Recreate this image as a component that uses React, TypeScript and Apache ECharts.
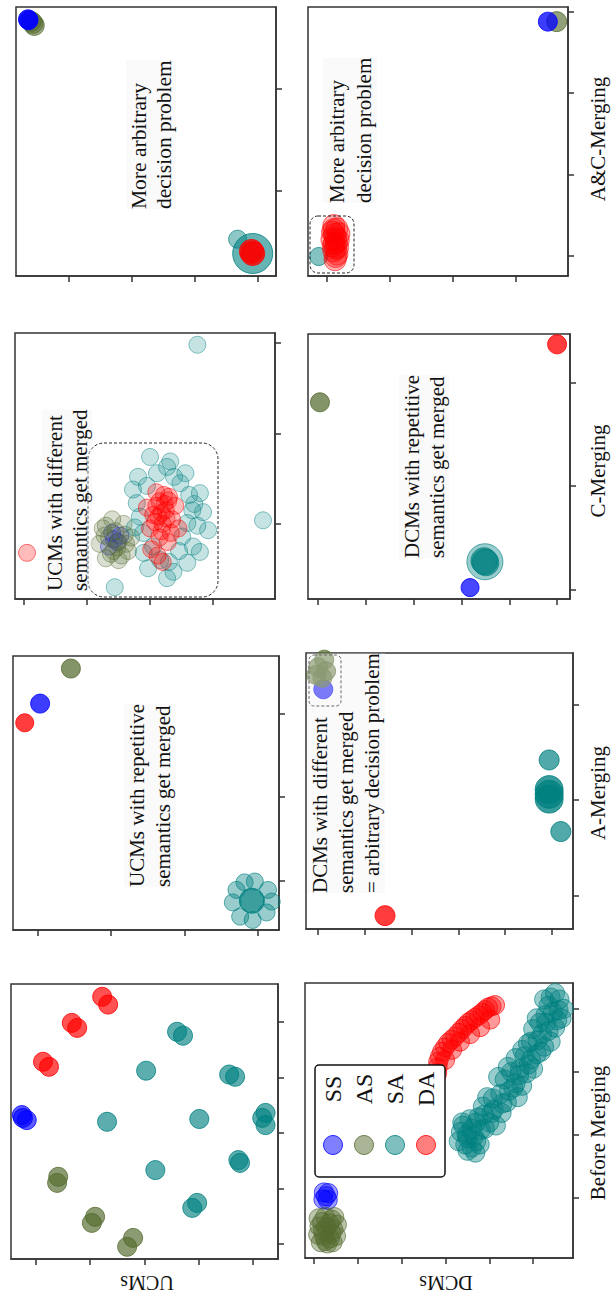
import React, { useEffect, useRef } from "react";
import * as echarts from "echarts";

// ---------- categories / labels ----------
const classNames = ["SS", "AS", "SA", "DA"];
const stageTitles = ["A&C-Merging", "C-Merging", "A-Merging", "Before Merging"];
const modelLabels = ["UCMs", "DCMs"];

// ---------- data (picture-oriented: [horizontal, vertical]) ----------
// A&C-Merging, UCMs
const acUcmSS = [[-6.5, 16.8], [-6.4, 16.7]];
const acUcmAS = [[-5.7, 16.4], [-6.0, 16.6], [-5.5, 16.2]];
const acUcmSA = [[26.8, -4.7], [29.0, -6.0]];
const acUcmSABlob = [[29.2, -6.1]];
const acUcmDA = [[29.2, -6.1], [29.0, -5.9]];
// A&C-Merging, DCMs
const acDcmSS = [[35.1, 28.8]];
const acDcmAS = [[36.5, 28.8]];
const acDcmSA = [[-1.3, -0.1]];
const acDcmDA = [[1.1, 3.2], [1.4, 2.2], [1.0, 1.2], [1.6, 0.2], [1.3, -0.5], [1.9, 2.7], [0.8, 2.0], [1.7, 1.0], [1.1, 3.7], [1.4, -0.1],
  [1.2, 2.6], [1.5, 1.6], [1.1, 0.6], [1.6, 3.3], [0.9, 2.9], [1.8, 1.9], [1.2, 1.5], [1.4, 0.9]];
// C-Merging, UCMs
const cUcmSS = [[14, -1], [14.8, -2], [13.5, -2.5], [15.3, -1.3], [14.3, -1.7]];
const cUcmAS = [[12.5, -0.5], [14, 0.5], [15.8, 0], [17, -1.5], [16.5, -3], [15, -4], [13, -3.8], [12, -2.2], [13.5, -1.5], [15, -2], [14.5, -0.8], [16, -1.2], [13, -0.2], [14.2, -3], [15.5, -3.5],
  [14.8, -2.6], [13.8, -3.3], [16.2, -2.2], [12.8, -1.3]];
const cUcmSA = [[27.5, 19.8], [37.9, 0.4], [14.4, -7.0],
  [20, 7.4], [23.2, 6.9], [25.6, 5.6], [18.1, 5.2], [17.3, 3.8], [27.9, 3.4], [28.4, 1.3], [29.2, -0.7], [27.9, -3.1], [25.9, -4.3], [23.7, -5.3], [22.7, -6.0], [19.7, -4.9], [18.4, 0.8], [17.9, 2.3], [26.8, -2.5], [24.8, 4.5], [21.1, 5.6], [26.7, 1.5], [25.1, -1.4], [18.9, -1.0], [21.6, -4.0], [22.7, 6.3], [25.9, 0.1],
  [19.5, 4.2], [23.8, 5.2], [26.2, 3.2], [27.5, -0.2], [24.6, -3.0], [20.5, -2.5], [19.0, -3.2], [23.0, -4.2], [17.6, -0.4], [27.0, 2.2]];
const cUcmDA = [[0.5, -3.2],
  [21.5, 2.5], [22.5, 1.5], [20.5, 1], [23, 3], [21, 3.5], [22, 0], [20, -0.5], [23.5, 0.5], [24, 2], [21.5, -1.5], [22.8, -2], [20.2, -2.8], [21.2, -3.5], [22, -4.2], [19.5, 1.8], [24.5, -0.5], [20.8, 0.2], [22.3, 2.2], [21.8, -0.8], [23.3, -1],
  [21.8, 1.2], [22.6, 0.6], [21.0, 2.0], [22.9, 2.6], [21.3, 0.8], [22.2, 3.2]];
// C-Merging, DCMs
const cDcmSS = [[31.8, 0.2]];
const cDcmAS = [[0.4, 18.1]];
const cDcmSA = [[34.9, 2.7], [34.7, 2.8], [35.1, 2.6]];
const cDcmSAHalo = [[34.9, 2.7]];
const cDcmDA = [[50, 23.7]];
// A-Merging, UCMs
const aUcmSS = [[0.3, 21.2]];
const aUcmAS = [[4.5, 25.4]];
const aUcmSA = [[29.6, -0.1], [31.4, -1.1], [31.9, -2.5], [31.2, -3.8], [29.3, -4.7], [27.6, -4.3], [26.6, -2.6], [27.1, -1.1], [28.2, -0.2]];
const aUcmSACore = [[29.2, -2.4]];
const aUcmDA = [[-1.8, 18.9]];
// A-Merging, DCMs
const aDcmSS = [[1.1, 21.6]];
const aDcmAS = [[0, 23.9], [1.3, 24.7], [0.9, 22.8], [-0.4, 23.1], [1.7, 23.5]];
const aDcmSA = [[49.4, 14.2], [51.9, 6.7]];
const aDcmSAMerged = [[49.4, 11.1], [49.4, 10.6], [49.4, 10.1]];
const aDcmDA = [[14.3, -2.1]];
// Before Merging, UCMs
const bUcmSS = [[-2.4, 22.7], [-1.7, 22.3], [-2.6, 23.2]];
const bUcmAS = [[4.1, 12.1], [3.9, 11.0], [10.9, 4.9], [10.3, 3.8], [17.9, 1.1], [16.8, -0.5]];
const bUcmSA = [[26.0, 38.2], [27.1, 37.5], [20.3, 31.2], [35.6, 30.5], [36.7, 30.1], [13.1, 22.0], [30.1, 22.5], [41.7, 22.7], [42.3, 23.6], [42.3, 21.4], [22.0, 13.3], [37.3, 15.1], [37.6, 14.6], [29.7, 7.4], [28.8, 6.5]];
const bUcmDA = [[12.2, 44.5], [13.3, 43.1], [6.6, 39.8], [7.6, 38.9], [1.3, 32.8], [2.4, 31.9]];
// Before Merging, DCMs
const bDcmSS = [[2.2, 0.9], [3.2, 0.8], [2.7, 0.3], [2.1, -0.2], [3.1, -0.3]];
const bDcmAS = [[1.0, -3.2], [2.5, -3.0], [4.0, -3.4], [5.2, -4.2], [1.2, -4.5], [2.8, -4.6], [4.4, -5.0], [0.9, -5.8], [2.2, -6.0], [3.6, -6.4], [5.0, -6.0], [1.5, -7.0], [3.0, -7.2], [4.2, -7.0], [2.0, -5.2], [3.5, -4.0], [1.8, -3.8], [4.6, -3.0], [2.6, -6.8], [3.9, -5.6]];
const bDcmSA = [[33.5, 10.5], [34.5, 8.5], [36, 11], [37, 9], [35, 7.5], [33.8, 12], [36.8, 7.2], [38, 10.8],
  [38.5, 14.5], [40, 12], [41, 14], [39.5, 16], [37.5, 12.8], [41.5, 11.5],
  [42.5, 16.5], [44, 15.2], [45.5, 17.5], [43.5, 18.8], [46.5, 16], [42, 19.2], [45, 20],
  [47, 20.5], [48.5, 19.8], [49.5, 22], [47.5, 23.5], [46, 22.2], [50, 20.5], [48.8, 24.5],
  [51, 25], [52.5, 24], [53.5, 26.5], [51.5, 27.8], [50, 26.8], [54, 24.8], [52.8, 29],
  [54.5, 29.5], [56, 31.5], [55.5, 28.2], [54, 31.8], [57, 30],
  [34.8, 10.0], [36.5, 9.8], [35.5, 12.5], [33, 9], [37.8, 8.5], [39, 11], [40.5, 13.5], [38.8, 13.2], [42.8, 13.5], [40.8, 15.8],
  [43, 15], [44.5, 17], [46, 18.2], [44.2, 20.8], [47.5, 17.8], [46.8, 19.5], [49, 21.2], [48, 22.5], [50.8, 22.8], [49.5, 24.8],
  [51.8, 23.2], [52, 26], [53, 27.8], [50.8, 28.5], [55, 27], [53.5, 30.5], [55.8, 29.8], [56.5, 28.5], [52.5, 31.5], [55, 32.5],
  [34, 11.5], [36, 8], [37, 12], [35, 9.5]];
const bDcmDA = [[28.1, 19.8], [28.3, 21.6], [29.2, 23.2], [30.6, 24.6], [32.2, 25.6], [33.8, 26.8], [35.2, 27.8], [36.8, 28.6], [38.4, 29.4], [39.7, 30.2], [41.3, 30.6],
  [29.9, 21.9], [31.5, 23.5], [33.3, 24.8], [35.6, 26.0], [37.9, 27.1], [40.2, 28.3],
  [28.2, 20.7], [28.7, 22.4], [29.9, 23.9], [31.4, 25.1], [33.0, 26.2], [34.5, 27.3], [36.0, 28.2], [37.6, 29.0], [39.0, 29.8], [40.5, 30.4]];

// tick values
const ticks4 = [0, 10, 20, 30];
const ticks6 = [0, 10, 20, 30, 40, 50];
const ticks5 = [0, 10, 20, 30, 40];

const panelData = [
  [acUcmSS, acUcmAS, acUcmSA, acUcmDA],
  [acDcmSS, acDcmAS, acDcmSA, acDcmDA],
  [cUcmSS, cUcmAS, cUcmSA, cUcmDA],
  [cDcmSS, cDcmAS, cDcmSA, cDcmDA],
  [aUcmSS, aUcmAS, aUcmSA, aUcmDA],
  [aDcmSS, aDcmAS, aDcmSA, aDcmDA],
  [bUcmSS, bUcmAS, bUcmSA, bUcmDA],
  [bDcmSS, bDcmAS, bDcmSA, bDcmDA],
];

// merged (larger) teal blobs drawn just before the regular teal series of a panel
const extraTeal: { panel: number; data: number[][]; size: number; alpha: number }[] = [
  { panel: 0, data: acUcmSABlob, size: 40, alpha: 0.75 },
  { panel: 3, data: cDcmSAHalo, size: 36, alpha: 0.5 },
  { panel: 4, data: aUcmSACore, size: 25, alpha: 0.95 },
  { panel: 5, data: aDcmSAMerged, size: 28, alpha: 0.97 },
];

// ---------- layout / style ----------
const panels = [
  { grid: [16, 7, 260, 269], x: [-8.4, 32.9], y: [-8.3, 18.0], xt: ticks4, yt: [0, 10], alpha: [0.95, 0.7, 0.55, 0.95], sizes: [19, 20, 18, 24], order: [1, 0, 2, 3] },
  { grid: [308, 7, 260, 269], x: [-3.0, 38.3], y: [-2.5, 30.6], xt: ticks4, yt: ticks4, alpha: [0.95, 0.8, 0.6, 0.4], sizes: [19, 20, 18, 22], order: [1, 0, 2, 3] },
  { grid: [15, 333, 260, 266], x: [-1.4, 39.8], y: [-8.3, 21.1], xt: ticks4, yt: [0, 10, 20], alpha: [0.3, 0.28, 0.28, 0.34], sizes: [17, 17, 17, 17] },
  { grid: [308, 334, 262, 265], x: [-2.1, 52.7], y: [-0.9, 24.7], xt: ticks6, yt: [0, 10, 20], alpha: [0.9, 0.9, 0.6, 0.95], sizes: [18, 19, 26, 19] },
  { grid: [13, 656, 266, 274], x: [-3.4, 32.9], y: [-5.9, 26.9], xt: ticks4, yt: [0, 10, 20], alpha: [0.95, 0.9, 0.5, 0.95], sizes: [19, 19, 17, 18] },
  { grid: [306, 653, 267, 276], x: [-2.6, 54.5], y: [-3.5, 25.4], xt: ticks6, yt: [0, 10, 20], alpha: [0.95, 0.85, 0.85, 0.95], sizes: [19, 19, 20, 20] },
  { grid: [11, 984, 267, 275], x: [-4.6, 44.6], y: [-2.7, 46.8], xt: ticks5, yt: ticks5, alpha: [0.8, 0.85, 0.8, 0.85], sizes: [19, 19, 19, 19] },
  { grid: [305, 983, 268, 275], x: [-2.1, 59.1], y: [-9.5, 34.1], xt: ticks6, yt: ticks4, alpha: [0.5, 0.5, 0.5, 0.5], sizes: [19, 19, 19, 19] },
];

const classColors = [[0, 0, 255], [85, 107, 47], [0, 128, 128], [255, 0, 0]];
const rgba = (c: number[], a: number) => `rgba(${c[0]},${c[1]},${c[2]},${a})`;
const SERIF = '"Liberation Serif", "Times New Roman", serif';

const annotations = [
  { text: "More arbitrary\ndecision problem", x: 126, y: 209, size: 21.5, lh: 25 },
  { text: "More arbitrary\ndecision problem", x: 323, y: 203, size: 21, lh: 27 },
  { text: "UCMs with different\nsemantics get merged", x: 42, y: 591, size: 21, lh: 25 },
  { text: "DCMs with repetitive\nsemantics get merged", x: 399, y: 558, size: 21, lh: 25 },
  { text: "UCMs with repetitive\nsemantics get merged", x: 124, y: 887, size: 21, lh: 26 },
  { text: "DCMs with different\nsemantics get merged\n= arbitrary decision problem", x: 307, y: 893, size: 21, lh: 26 },
];

const dashedBoxes = [
  [310, 216, 44, 57, 8],
  [88, 443, 130, 154, 16],
  [309, 655, 32, 51, 5],
];

const stageTitleY = [139, 471, 793, 1133];

export default function App() {
  const ref = useRef<HTMLDivElement>(null);
  useEffect(() => {
    if (!ref.current) return;
    const chart = echarts.init(ref.current, null, { renderer: "svg" });
    const grid: any[] = [];
    const xAxis: any[] = [];
    const yAxis: any[] = [];
    const series: any[] = [];
    const lineCol = "#333";
    const mkScatter = (i: number, k: number, data: number[][], size: number, a: number, z: number) => ({
      type: "scatter", name: classNames[k], xAxisIndex: i, yAxisIndex: i,
      data, symbol: "circle", symbolSize: size,
      itemStyle: { color: rgba(classColors[k], a), borderColor: rgba(classColors[k], Math.min(1, a + 0.3)), borderWidth: 1 },
      silent: true, z,
    });
    panels.forEach((p, i) => {
      grid.push({ left: p.grid[0], top: p.grid[1], width: p.grid[2], height: p.grid[3], show: true, borderColor: lineCol, borderWidth: 1.5, containLabel: false });
      xAxis.push({
        gridIndex: i, type: "value", min: p.x[0], max: p.x[1], position: "bottom",
        axisLine: { show: true, onZero: false, lineStyle: { color: lineCol, width: 1.5 } },
        axisTick: { show: true, inside: false, length: 6, customValues: p.xt, lineStyle: { color: lineCol, width: 1.5 } },
        axisLabel: { show: false }, splitLine: { show: false },
      });
      yAxis.push({
        gridIndex: i, type: "value", min: p.y[0], max: p.y[1], position: "right",
        axisLine: { show: true, onZero: false, lineStyle: { color: lineCol, width: 1.5 } },
        axisTick: { show: true, inside: false, length: 6, customValues: p.yt, lineStyle: { color: lineCol, width: 1.5 } },
        axisLabel: { show: false }, splitLine: { show: false },
      });
      const order = (p as any).order || [0, 1, 2, 3];
      let z = 2;
      order.forEach((k: number) => {
        if (k === 2) {
          extraTeal.filter((e) => e.panel === i).forEach((e) => {
            series.push(mkScatter(i, 2, e.data, e.size, e.alpha, z++));
          });
        }
        series.push(mkScatter(i, k, panelData[i][k], p.sizes[k], p.alpha[k], z++));
      });
    });

    const graphic: any[] = [];
    annotations.forEach((a) => {
      graphic.push({
        type: "text", x: a.x, y: a.y, rotation: Math.PI / 2, z: 50,
        style: { text: a.text, font: `${a.size}px ${SERIF}`, fill: "#111", align: "left", verticalAlign: "top", lineHeight: a.lh, backgroundColor: "rgba(240,240,240,0.35)" },
      });
    });
    dashedBoxes.forEach((b) => {
      graphic.push({ type: "rect", z: 45, shape: { x: b[0], y: b[1], width: b[2], height: b[3], r: b[4] }, style: { fill: "none", stroke: "#222", lineWidth: 1, lineDash: [3, 2] } });
    });
    stageTitles.forEach((t, i) => {
      graphic.push({ type: "text", x: 598, y: stageTitleY[i], rotation: Math.PI / 2, z: 50, style: { text: t, font: `21px ${SERIF}`, fill: "#111", align: "center", verticalAlign: "middle" } });
    });
    graphic.push({ type: "text", x: 147, y: 1283, rotation: Math.PI, z: 50, style: { text: modelLabels[0], font: `20px ${SERIF}`, fill: "#111", align: "center", verticalAlign: "middle" } });
    graphic.push({ type: "text", x: 446, y: 1283, rotation: Math.PI, z: 50, style: { text: modelLabels[1], font: `20px ${SERIF}`, fill: "#111", align: "center", verticalAlign: "middle" } });

    // legend box (drawn rotated like the figure)
    graphic.push({ type: "rect", z: 60, shape: { x: 315, y: 1065, width: 130, height: 112, r: 4 }, style: { fill: "#fff", stroke: "#111", lineWidth: 1.5 } });
    const legX = [333, 364, 395, 426];
    classNames.forEach((n, k) => {
      graphic.push({ type: "circle", z: 61, shape: { cx: legX[k], cy: 1145, r: 9.5 }, style: { fill: rgba(classColors[k], 0.5), stroke: rgba(classColors[k], 0.8), lineWidth: 1 } });
      graphic.push({ type: "text", z: 61, x: legX[k], y: 1089, rotation: Math.PI / 2, style: { text: n, font: `24px ${SERIF}`, fill: "#111", align: "center", verticalAlign: "middle" } });
    });

    chart.setOption({ animation: false, backgroundColor: "#fff", grid, xAxis, yAxis, series, graphic });
    return () => chart.dispose();
  }, []);
  return <div ref={ref} style={{ position: "absolute", left: 0, top: 0, width: 611, height: 1302 }} />;
}
